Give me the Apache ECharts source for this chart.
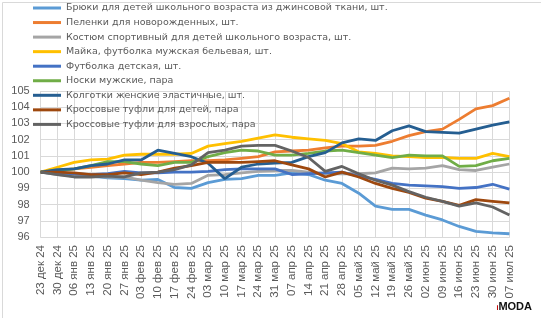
<!DOCTYPE html>
<html>
<head>
<meta charset="utf-8">
<script src="https://cdn.jsdelivr.net/npm/echarts@6/dist/echarts.min.js"></script>
<style>
html,body{margin:0;padding:0;background:#fff;}
#c{width:541px;height:318px;}
</style>
</head>
<body>
<div id="c"></div>
<script>
const categories = ["23 дек 24","30 дек 24","06 янв 25","13 янв 25","20 янв 25","27 янв 25","03 фев 25","10 фев 25","17 фев 25","24 фев 25","03 мар 25","10 мар 25","17 мар 25","24 мар 25","31 мар 25","07 апр 25","14 апр 25","21 апр 25","28 апр 25","05 май 25","12 май 25","19 май 25","26 май 25","02 июн 25","09 июн 25","16 июн 25","23 июн 25","30 июн 25","07 июл 25"];

const seriesNames = ["Брюки для детей школьного возраста из джинсовой ткани, шт.","Пеленки для новорожденных, шт.","Костюм спортивный для детей школьного возраста, шт.","Майка, футболка мужская бельевая, шт.","Футболка детская, шт.","Носки мужские, пара","Колготки женские эластичные, шт.","Кроссовые туфли для детей, пара","Кроссовые туфли для взрослых, пара"];

const bryuki    = [100,99.9,99.8,99.75,99.65,99.6,99.5,99.55,99.05,99.0,99.35,99.55,99.6,99.8,99.8,99.95,99.85,99.5,99.3,98.7,97.9,97.7,97.7,97.35,97.05,96.65,96.35,96.25,96.2];
const pelenki   = [100,100.1,100.2,100.3,100.4,100.5,100.6,100.6,100.65,100.7,100.7,100.75,100.85,100.95,101.25,101.3,101.35,101.5,101.6,101.6,101.65,101.9,102.25,102.5,102.65,103.25,103.9,104.1,104.55];
const kostyum   = [100,99.85,99.75,99.75,99.7,99.7,99.5,99.35,99.25,99.3,99.8,99.85,99.95,100.05,100.1,100.1,100.0,99.9,99.9,99.9,99.95,100.25,100.2,100.25,100.4,100.15,100.1,100.3,100.5];
const mayka     = [100,100.3,100.6,100.75,100.8,101.05,101.1,101.1,101.1,101.15,101.6,101.75,101.9,102.1,102.3,102.15,102.05,101.95,101.75,101.25,101.15,101.0,100.95,100.9,100.9,100.85,100.85,101.15,100.95];
const futbolka  = [100,99.95,99.9,99.85,99.9,100.05,99.95,99.95,100.0,100.0,100.05,100.15,100.2,100.2,100.2,99.85,99.9,99.95,100.0,99.75,99.55,99.3,99.2,99.15,99.1,99.0,99.05,99.25,98.95];
const noski     = [100,100.1,100.2,100.4,100.65,100.65,100.5,100.4,100.6,100.6,100.95,101.2,101.35,101.3,101.05,101.05,101.15,101.3,101.35,101.2,101.05,100.9,101.05,101.0,101.0,100.35,100.4,100.7,100.85];
const kolgotki  = [100,100.15,100.2,100.4,100.5,100.75,100.75,101.35,101.15,100.95,100.55,99.6,100.3,100.5,100.55,100.6,100.95,101.2,101.8,102.05,101.95,102.55,102.85,102.5,102.45,102.4,102.65,102.9,103.1];
const krossDeti = [100,100.0,99.95,99.85,99.85,99.95,99.85,100.0,100.25,100.4,100.6,100.6,100.6,100.65,100.7,100.45,100.2,99.7,100.0,99.7,99.3,99.0,98.75,98.4,98.2,97.95,98.3,98.2,98.1];
const krossVzr  = [100,99.85,99.7,99.7,99.75,99.7,99.95,100.0,100.15,100.45,101.2,101.35,101.6,101.65,101.65,101.3,100.9,100.05,100.35,99.9,99.5,99.2,98.8,98.45,98.2,97.9,98.1,97.85,97.35];

const yTicks = [96,97,98,99,100,101,102,103,104,105];

const colors = ["#5B9BD5","#ED7D31","#A5A5A5","#FFC000","#4472C4","#70AD47","#255E91","#9E480E","#636363"];
const dataSets = [bryuki,pelenki,kostyum,mayka,futbolka,noski,kolgotki,krossDeti,krossVzr];

const FONT = "Liberation Sans";
const chart = echarts.init(document.getElementById('c'), null, {renderer:'canvas'});
chart.setOption({
  animation:false,
  backgroundColor:'#fff',
  color: colors,
  textStyle:{fontFamily:FONT},
  grid:{left:40.7, right:31.6, top:91, bottom:81, containLabel:false},
  legend:{
    orient:'vertical', left:33, top:1, padding:0,
    itemWidth:28, itemHeight:3, itemGap:0.55, icon:'rect',
    textStyle:{fontFamily:"DejaVu Sans", fontSize:9.5, color:'#595959', lineHeight:14},
    data: seriesNames
  },
  xAxis:{
    type:'category', boundaryGap:false, data:categories,
    axisLine:{show:true, lineStyle:{color:'#d9d9d9'}},
    axisTick:{show:false},
    splitLine:{show:true, interval:0, lineStyle:{color:'#d9d9d9', width:1}},
    axisLabel:{rotate:90, interval:0, fontFamily:"'Liberation Sans Narrow', 'Liberation Sans'", fontSize:11.5, color:'#595959', margin:8}
  },
  yAxis:{
    type:'value', min:yTicks[0], max:yTicks[yTicks.length-1], interval:1,
    axisLine:{show:false}, axisTick:{show:false},
    splitLine:{show:true, lineStyle:{color:'#d9d9d9', width:1}},
    axisLabel:{fontFamily:FONT, fontSize:11, color:'#595959', margin:11}
  },
  series: seriesNames.map((n,i)=>({
    name:n, type:'line', data:dataSets[i], showSymbol:false, symbol:'none',
    lineStyle:{width:2.8, color:colors[i]}, itemStyle:{color:colors[i]}
  })),
  graphic:[
    {type:'rect', left:0, top:0, shape:{width:540, height:317}, style:{fill:'none', stroke:'#d9d9d9', lineWidth:1}, silent:true, z:-1},
    {type:'text', right:9, bottom:6, style:{
      text:'{i|i}{m|MODA}',
      rich:{ i:{fontSize:7, fontWeight:'bold', fill:'#c00000', fontFamily:FONT, verticalAlign:'bottom'},
             m:{fontSize:11, fontWeight:'bold', fill:'#111', fontFamily:FONT} }
    }}
  ]
});
</script>
</body>
</html>
